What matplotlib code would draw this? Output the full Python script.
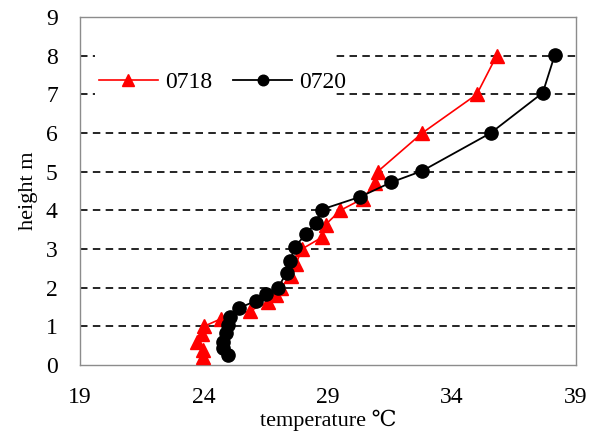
import matplotlib
matplotlib.use("Agg")
import matplotlib.pyplot as plt
from matplotlib.patches import Rectangle

# 0718 series (red triangles)
temp_0718 = [23.95, 23.95, 23.7, 23.9, 24.0, 24.7, 25.85, 26.6, 26.9, 27.1, 27.5,
             27.7, 27.95, 28.75, 28.9, 29.5, 30.4, 30.9, 31.0, 32.8, 35.0, 35.8]
height_0718 = [0.2, 0.4, 0.6, 0.8, 1.0, 1.2, 1.4, 1.63, 1.8, 2.0, 2.3,
               2.6, 3.0, 3.3, 3.63, 4.0, 4.3, 4.7, 5.0, 6.0, 7.0, 8.0]

# 0720 series (black circles)
temp_0720 = [24.96, 24.77, 24.77, 24.89, 24.97, 25.05, 25.4, 26.1, 26.5, 26.98, 27.33,
             27.47, 27.67, 28.1, 28.5, 28.74, 30.3, 31.53, 32.8, 35.56, 37.66, 38.15]
height_0720 = [0.26, 0.44, 0.6, 0.83, 1.03, 1.25, 1.47, 1.66, 1.83, 1.99, 2.39,
               2.69, 3.06, 3.38, 3.67, 4.02, 4.35, 4.72, 5.02, 6.0, 7.04, 8.03]

x_ticks = [19, 24, 29, 34, 39]
y_ticks = [0, 1, 2, 3, 4, 5, 6, 7, 8, 9]
grid_levels = [1, 2, 3, 4, 5, 6, 7, 8]

plt.rcParams['font.family'] = ['Liberation Serif', 'DejaVu Serif', 'Noto Sans CJK SC']

fig = plt.figure(figsize=(5.93, 4.36), dpi=100)
ax = fig.add_axes([80 / 593, 1 - 365 / 436, 496 / 593, 348 / 436])

for lv in grid_levels:
    ax.axhline(lv, color='black', linestyle=(0, (4.5, 3.2)), linewidth=1.2, zorder=1)

# white background box behind the legend (covers the gridlines there)
ax.add_patch(Rectangle((0.031, 0.755), 0.479, 0.16, transform=ax.transAxes,
                       facecolor='white', edgecolor='none', zorder=2))

ax.plot(temp_0718, height_0718, color='#ff0000', linewidth=1.2, marker='^',
        markersize=10, markerfacecolor='#ff0000', markeredgecolor='#ff0000',
        label='0718', zorder=3)
ax.plot(temp_0720, height_0720, color='black', linewidth=1.3, marker='o',
        markersize=9.5, markerfacecolor='black', markeredgecolor='black',
        label='0720', zorder=4)

ax.set_xlim(19, 39)
ax.set_ylim(0, 9)
ax.set_xticks(x_ticks)
ax.set_yticks(y_ticks)
ax.tick_params(axis='both', length=0, labelsize=17)
ax.tick_params(axis='y', pad=16)
ax.tick_params(axis='x', pad=16)

for sp in ax.spines.values():
    sp.set_color('#8c8c8c')
    sp.set_linewidth(1.0)

ax.set_xlabel('temperature ℃', fontsize=16, labelpad=1)
ax.set_ylabel('height m', fontsize=16, labelpad=6)

leg = ax.legend(loc='center left', bbox_to_anchor=(0.028, 0.813), ncol=2,
                frameon=False, fontsize=17, handlelength=2.5, handletextpad=0.3,
                columnspacing=0.9, markerscale=0.8, borderpad=0.2, borderaxespad=0)
leg.set_zorder(5)

fig.savefig('out.png', dpi=100)
